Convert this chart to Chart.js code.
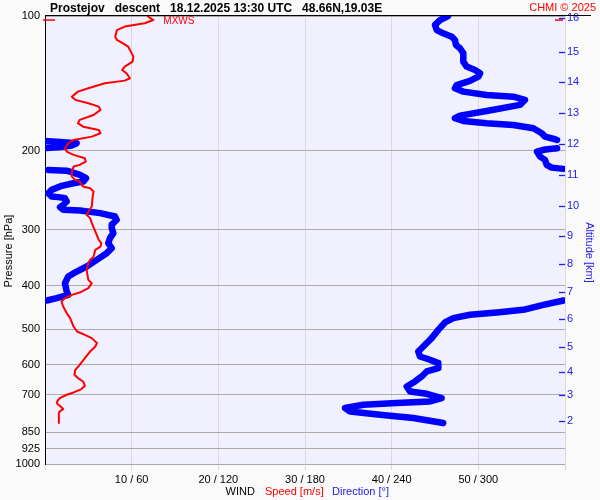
<!DOCTYPE html>
<html><head><meta charset="utf-8">
<script src="https://cdn.jsdelivr.net/npm/chart.js@4"></script>
<style>html,body{margin:0;padding:0;background:#fafafa;}canvas{display:block;}</style>
</head><body>
<canvas id="c" width="600" height="500"></canvas>
<script>
// ---- Data ----
const speedPressure = [100,102.1,103.8,105.6,107.5,111.2,113.1,115.1,117.1,120.1,123.2,126.4,129.7,132.0,134.2,137.7,139.4,141.3,145.0,147.5,151.4,153.9,156.6,159.3,162.0,166.3,170.6,173.5,176.6,179.6,182.7,185.9,189.1,192.3,197.3,200.8,204.2,207.7,211.3,214.9,216.8,222.5,228.3,232.2,234.2,240.3,242.3,246.5,252.9,266.2,273.2,277.8,282.6,289.9,302.7,316.1,321.5,327.1,332.7,344.4,350.3,356.2,368.7,378.3,388.1,394.8,405.0,414.3,419.2,426.3,433.8,445.1,460.4,472.4,493.3,506.1,514.8,523.6,537.2,546.7,561.0,580.3,600.6,616.2,632.2,643.0,654.3,668.9,680.3,692.3,700.5,712.5,725.1,733.7,741.3,754.0,763.3,769.6,810.1];
const speedValues = [11.8,12.5,11.5,9.2,8.3,8.1,8.3,9.0,9.6,9.9,10.2,10.1,9.2,8.9,9.4,9.8,9.2,6.9,5.0,3.8,3.1,3.5,5.0,6.2,6.4,5.6,4.0,3.8,4.4,6.2,6.4,5.4,3.3,2.7,2.3,2.5,3.3,4.6,4.7,4.0,3.3,3.1,3.1,3.5,4.0,4.4,5.2,5.6,5.5,5.4,5.0,4.8,5.2,5.4,5.8,6.2,6.5,6.4,5.8,5.6,5.2,5.0,4.8,4.9,5.0,5.4,5.0,4.0,3.1,2.3,1.9,2.1,2.5,2.9,3.3,3.7,4.6,5.4,6.0,5.8,5.2,4.6,4.0,3.5,3.4,3.8,4.4,4.6,4.2,3.3,2.5,1.7,1.4,1.4,1.7,2.1,1.7,1.6,1.6];

const dirPressure = [100,102.1,104.7,107.5,109.3,111.2,113.1,116.0,118.0,121.1,126.4,129.7,132.0,134.2,136.6,139.6,142.6,145.0,147.5,150.1,151.4,153.9,157.9,162.9,166.9,169.1,171.5,173.5,175.1,178.1,182.7,185.9,188.4,189.1,null,
190.1,191.0,192.3,194.5,196.0,197.0,null,
197.3,198.6,200.8,206.0,209.5,214.9,218.0,219.4,null,
220.6,221.4,226.3,230.2,234.2,236.2,239.4,244.4,248.6,252.9,253.7,255.0,259.5,263.9,267.1,270.8,271.8,275.4,280.3,285.1,292.5,297.5,305.2,313.2,321.5,329.9,338.4,350.3,362.4,371.9,381.6,394.8,412.1,419.2,426.4,431.6,null,
431.6,441.3,452.8,459.1,464.5,472.4,483.2,501.9,523.6,542.0,561.0,575.5,585.3,595.4,610.9,621.6,637.7,654.3,671.3,688.8,697.0,712.5,725.1,731.1,737.5,750.1,763.3,776.3,789.6,810.1];
const dirValues = [279,273.5,270.0,271.2,275.7,281.6,283.8,284.5,287.3,289.6,289.6,291.9,297.7,301.2,300.0,294.2,285.0,283.8,289.6,305.8,324.2,332.3,328.8,305.8,287.3,283.8,289.6,305.8,324.2,338.1,343.9,346.2,353.1,354.5,null,
0,10.4,21.9,18.7,10.4,1.4,null,
354.5,346.2,340.6,342.7,346.2,347.3,350.8,358.8,null,
2.3,15.0,24.2,28.4,26.5,19.6,11.6,4.6,2.3,4.6,9.2,13.8,15.0,12.7,10.4,12.7,24.2,38.1,48.5,49.6,46.2,46.2,47.3,45.0,43.8,46.2,42.7,35.8,28.9,21.9,16.1,13.8,15.0,16.1,8.1,1.2,null,
359,345.0,331.1,312.7,294.2,282.7,276.9,272.3,267.7,263.1,258.4,259.6,266.5,272.3,272.3,264.3,260.8,256.2,250.4,252.7,264.3,274.6,266.5,243.5,220.4,207.7,211.2,231.9,255.0,275.7];

const pressureTicks = [100,200,300,400,500,600,700,850,925,1000];
const speedTicks = [0,10,20,30,40,50,60];
const dirTicks = [0,60,120,180,240,300,360];
const altitudeKm = [2,3,4,5,6,7,8,9,10,11,12,13,14,15,16];
const altitudePressure = [803.5,703.1,622.5,546.7,475.1,413.4,358.0,310.0,265.0,225.9,193.0,164.6,140.6,120.1,101.0];

const FONT = '"Liberation Sans", Arial, sans-serif';
Chart.defaults.font.family = FONT;

const speedPts = speedPressure.map((p, i) => ({ x: speedValues[i], y: p }));
const dirPts = dirPressure.map((p, i) => ({ x: dirValues[i], y: p }));

const decor = {
  id: 'decor',
  beforeDraw(chart) {
    const c = chart.ctx, a = chart.chartArea;
    c.save();
    c.fillStyle = '#fafafa';
    c.fillRect(0, 0, chart.width, chart.height);
    c.fillStyle = '#f0f0ff';
    c.fillRect(a.left, a.top, a.right - a.left, a.bottom - a.top);
    c.restore();
  },
  afterDraw(chart) {
    const c = chart.ctx, a = chart.chartArea;
    const xs = chart.scales.x, ys = chart.scales.y, y2 = chart.scales.y2;
    c.save();
    // top line
    c.strokeStyle = '#000'; c.lineWidth = 1;
    c.beginPath(); c.moveTo(a.left, 15.5); c.lineTo(591, 15.5); c.stroke();
    // title
    c.fillStyle = '#000'; c.font = 'bold 12px ' + FONT; c.textAlign = 'left'; c.textBaseline = 'alphabetic';
    c.fillText('Prostejov   descent   18.12.2025 13:30 UTC   48.66N,19.03E', 50, 11.5);
    c.fillStyle = '#ff0000'; c.font = '11px ' + FONT; c.textAlign = 'right';
    c.fillText('CHMI \u00a9 2025', 596, 11);
    // MXWS
    let mi = 0;
    speedValues.forEach((v, i) => { if (v > speedValues[mi]) mi = i; });
    const my = ys.getPixelForValue(speedPressure[mi]);
    const mx = xs.getPixelForValue(speedValues[mi]);
    c.strokeStyle = '#ff0000'; c.lineWidth = 1.5;
    c.beginPath(); c.moveTo(a.left - 2, my); c.lineTo(a.left + 10, my); c.stroke();
    c.beginPath(); c.moveTo(a.right - 10, my); c.lineTo(a.right - 2, my); c.stroke();
    c.fillStyle = '#ff0000'; c.font = '10px ' + FONT; c.textAlign = 'left'; c.textBaseline = 'middle';
    c.fillText('MXWS', mx + 10, my + 1.5);
    // altitude tick marks
    c.strokeStyle = '#2020ee'; c.lineWidth = 1.3;
    altitudePressure.forEach(p => {
      const y = Math.round(y2.getPixelForValue(p)) + 0.5;
      c.beginPath(); c.moveTo(a.right - 6, y); c.lineTo(a.right, y); c.stroke();
    });
    // axis titles
    c.font = '11px ' + FONT; c.textAlign = 'center'; c.textBaseline = 'alphabetic';
    c.fillStyle = '#000';
    c.save(); c.translate(11.5, 251); c.rotate(-Math.PI / 2); c.fillText('Pressure [hPa]', 0, 0); c.restore();
    c.fillStyle = '#2020ee';
    c.save(); c.translate(585.5, 252.5); c.rotate(Math.PI / 2); c.fillText('Altitude [km]', 0, 0); c.restore();
    // bottom legend
    c.textAlign = 'left';
    c.fillStyle = '#000'; c.fillText('WIND', 225.5, 494.5);
    c.fillStyle = '#ff0000'; c.fillText('Speed [m/s]', 265, 494.5);
    c.fillStyle = '#2020ee'; c.fillText('Direction [\u00b0]', 332, 494.5);
    c.restore();
  }
};

new Chart(document.getElementById('c'), {
  type: 'scatter',
  data: {
    datasets: [
      { label: 'Speed', data: speedPts, xAxisID: 'x', yAxisID: 'y', showLine: true, spanGaps: false,
        borderColor: '#ff0000', backgroundColor: '#ff0000', borderWidth: 2, pointRadius: 0, tension: 0,
        borderJoinStyle: 'round' },
      { label: 'Direction', data: dirPts, xAxisID: 'x2', yAxisID: 'y', showLine: true, spanGaps: false,
        borderColor: '#0000ff', backgroundColor: '#0000ff', borderWidth: 6.5, pointRadius: 0, tension: 0,
        borderCapStyle: 'round', borderJoinStyle: 'round' }
    ]
  },
  options: {
    responsive: false,
    animation: false,
    events: [],
    layout: { padding: { top: 16, left: 0, right: 0, bottom: 0 } },
    plugins: { legend: { display: false }, title: { display: false }, tooltip: { enabled: false } },
    scales: {
      x: {
        type: 'linear', position: 'bottom', min: 0, max: 60,
        afterBuildTicks: s => { s.ticks = speedTicks.map(v => ({ value: v })); },
        afterFit: s => { s.height = 36; },
        ticks: {
          autoSkip: false, maxRotation: 0, color: '#000', font: { size: 11 }, padding: 3,
          callback: (v, i) => (i === 0 || i === speedTicks.length - 1) ? '' : speedTicks[i] + ' / ' + dirTicks[i]
        },
        grid: { color: '#d9d9d9', tickColor: '#d9d9d9', tickLength: 6, drawTicks: true, lineWidth: 1 },
        border: { display: false }
      },
      x2: { type: 'linear', min: 0, max: 360, display: false },
      y: {
        type: 'logarithmic', position: 'left', min: 100, max: 1000, reverse: true,
        afterBuildTicks: s => { s.ticks = pressureTicks.map(v => ({ value: v })); },
        afterFit: s => { s.width = 45; },
        ticks: { autoSkip: false, color: '#000', font: { size: 11 }, padding: 5, callback: v => String(v) },
        grid: { color: '#aaaaaa', drawTicks: false, lineWidth: 1 },
        border: { display: true, color: '#000', width: 1 }
      },
      y2: {
        type: 'logarithmic', position: 'right', min: 100, max: 1000, reverse: true,
        afterBuildTicks: s => { s.ticks = altitudePressure.map(v => ({ value: v })); },
        afterFit: s => { s.width = 35; },
        ticks: { autoSkip: false, color: '#2020ee', font: { size: 11 }, padding: 2,
          callback: (v, i) => String(altitudeKm[i]) },
        grid: { display: false, drawTicks: false, drawOnChartArea: false },
        border: { display: false }
      }
    }
  },
  plugins: [decor]
});
</script>
</body></html>
